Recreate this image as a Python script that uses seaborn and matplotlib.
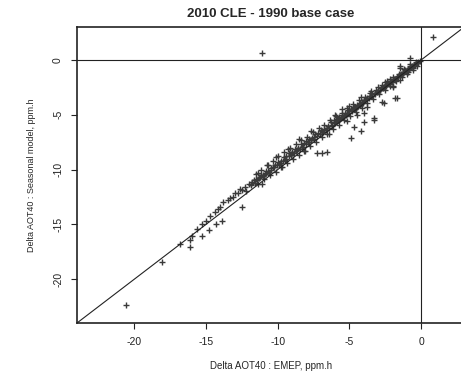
import matplotlib
matplotlib.use("Agg")
import matplotlib.pyplot as plt
import seaborn as sns
import pandas as pd

# values (EMEP delta vs seasonal model delta, ppm.h)
emep = [
    -0.1, -0.2, -0.3, -0.4, -0.5, -0.6, -0.7, -0.8, -0.9, -1.0, -1.1, -1.2, -1.3, -1.4, -1.5,
    -1.6, -1.7, -1.8, -1.9, -2.0, -2.1, -2.2, -2.3, -2.4, -2.5, -2.6, -2.7, -2.8, -2.9, -3.0,
    -0.3, -0.6, -1.0, -1.5, -2.0, -2.5, -3.0, -1.2, -0.8, -2.2,
    -1.45, -1.45, -0.76,
    -3.2, -3.4, -3.5, -3.6, -3.8, -3.9, -4.0, -4.1, -4.2, -4.3, -4.4, -4.5, -4.6, -4.7, -4.8,
    -4.9, -5.0, -5.1, -5.2, -5.3, -5.4, -5.5, -5.6, -5.7, -5.8, -5.9, -6.0, -6.1, -6.2, -6.3,
    -6.5, -6.6, -6.8, -6.9, -7.0,
    -3.5, -4.2, -5.0, -5.5, -6.0, -3.8, -4.5, -5.2, -6.4, -4.0,
    -3.3, -4.0, -4.7, -2.6, -1.8, -2.0, -4.9, -4.2, -3.3, -1.7, -2.7,
    -7.3, -6.9, -6.6,
    -7.2, -7.4, -7.5, -7.6, -7.8, -7.9, -8.0, -8.2, -8.3, -8.4, -8.6, -8.7, -8.8, -9.0, -9.1,
    -9.2, -9.4, -9.5, -9.6, -9.8, -9.9, -10.0, -10.2, -10.3, -10.5, -10.6, -10.8, -10.9, -11.0,
    -11.2, -11.3, -11.5, -11.6, -11.8, -11.9, -12.0,
    -7.7, -8.5, -9.3, -10.1, -10.7, -11.4, -8.1, -9.7, -11.1, -12.2,
    -12.3, -12.5, -12.6, -12.8, -13.0, -13.1, -13.3, -13.5, -13.8, -14.0, -14.2, -14.4, -14.7,
    -15.0, -15.3, -15.6, -16.0, -16.1, -16.8,
    -12.5, -13.9, -14.3, -14.8, -15.3, -16.1,
    -18.1, -20.6, -11.1, 0.8,
    # dense core of the band
    -0.25, -0.45, -0.65, -0.85, -1.05, -1.25, -1.45, -1.65, -1.85, -2.05, -2.25, -2.45, -2.65,
    -2.85, -3.05, -3.25, -3.45, -3.65, -3.85, -4.05, -4.25, -4.45, -4.65, -4.85, -5.05, -5.25,
    -5.45, -5.65, -5.85, -6.05, -6.25, -6.45, -6.65, -6.85, -7.05, -7.25, -7.45, -7.65, -7.85,
    -8.05, -8.25, -8.45, -8.65, -8.85, -9.05, -9.25, -9.45, -9.65, -9.85, -10.05, -10.25,
    -10.45, -10.65, -10.85, -11.05, -11.25, -11.45, -11.65, -11.85,
    -0.35, -0.75, -1.15, -1.55, -1.95, -2.35, -2.75, -3.15, -3.55, -3.95, -4.35, -4.75, -5.15,
    -5.55, -5.95, -6.35, -6.75, -7.15, -7.55, -7.95, -8.35, -8.75, -9.15, -9.55, -9.95, -10.35,
    -10.75, -11.15, -11.55,
    -0.55, -0.95, -1.35, -1.75, -2.15, -2.55, -2.95, -3.35, -3.75, -4.15, -4.55, -4.95, -5.35,
    -5.75, -6.15, -6.55, -6.95, -7.35, -7.75, -8.15, -8.55, -8.95, -9.35, -9.75, -10.15, -10.55,
    -10.95, -11.35,
]
seasonal = [
    -0.1, -0.2, -0.3, -0.35, -0.5, -0.55, -0.65, -0.7, -0.85, -0.9, -1.0, -1.1, -1.2, -1.3, -1.35,
    -1.5, -1.55, -1.7, -1.75, -1.85, -1.9, -2.05, -2.1, -2.2, -2.3, -2.45, -2.5, -2.6, -2.7, -2.8,
    -0.6, -0.9, -1.3, -1.8, -2.4, -2.0, -2.5, -0.8, -0.4, -1.7,
    -0.7, -0.6, 0.18,
    -3.0, -3.1, -3.3, -3.3, -3.5, -3.7, -3.7, -3.8, -4.0, -3.9, -4.2, -4.1, -4.4, -4.3, -4.6,
    -4.5, -4.7, -4.6, -4.9, -4.8, -5.1, -5.0, -5.3, -5.2, -5.5, -5.4, -5.7, -5.5, -5.9, -5.7,
    -6.0, -6.2, -6.3, -6.5, -6.4,
    -2.8, -3.4, -4.2, -4.5, -5.0, -4.3, -5.0, -5.6, -6.8, -4.8,
    -5.3, -5.7, -6.1, -3.9, -3.45, -2.5, -7.1, -6.5, -5.5, -3.5, -3.8,
    -8.5, -8.5, -8.4,
    -6.7, -6.8, -7.0, -7.1, -7.2, -7.5, -7.4, -7.6, -7.9, -7.7, -8.0, -8.3, -8.1, -8.4, -8.7,
    -8.5, -8.8, -9.1, -8.9, -9.2, -9.5, -9.3, -9.6, -9.8, -9.9, -10.2, -10.1, -10.4, -10.6,
    -10.5, -10.8, -10.9, -11.2, -11.1, -11.4, -11.3,
    -6.5, -7.2, -8.1, -8.9, -9.6, -10.3, -8.3, -9.8, -11.3, -12.0,
    -11.6, -11.9, -11.8, -12.1, -12.1, -12.5, -12.6, -12.8, -13.0, -13.4, -13.6, -13.9, -14.2,
    -14.7, -15.0, -15.4, -16.1, -16.4, -16.8,
    -13.4, -14.7, -15.0, -15.5, -16.1, -17.1,
    -18.4, -22.4, 0.6, 2.1,
    # dense core of the band
    -0.3, -0.5, -0.6, -0.8, -1.05, -1.15, -1.4, -1.6, -1.8, -2.0, -2.2, -2.35, -2.55,
    -2.7, -2.95, -3.15, -3.3, -3.5, -3.6, -3.9, -4.1, -4.3, -4.5, -4.7, -4.85, -5.0,
    -5.2, -5.4, -5.6, -5.8, -6.0, -6.2, -6.4, -6.6, -6.8, -6.95, -7.2, -7.3, -7.5,
    -7.7, -7.9, -8.1, -8.2, -8.5, -8.6, -8.8, -9.0, -9.2, -9.4, -9.6, -9.8,
    -10.0, -10.1, -10.3, -10.5, -10.7, -11.0, -11.0, -11.3,
    -0.2, -0.55, -0.95, -1.25, -1.6, -1.95, -2.3, -2.7, -3.05, -3.35, -3.7, -4.05, -4.4,
    -4.8, -5.1, -5.5, -5.9, -6.2, -6.6, -7.0, -7.3, -7.7, -8.0, -8.4, -8.8, -9.2,
    -9.6, -10.0, -10.4,
    -0.7, -1.1, -1.55, -1.95, -2.4, -2.75, -3.15, -3.55, -3.95, -4.35, -4.75, -5.1, -5.5,
    -5.95, -6.3, -6.75, -7.05, -7.5, -7.85, -8.3, -8.65, -9.05, -9.4, -9.8, -10.2, -10.5,
    -10.9, -11.3,
]
x_ticks = [-20, -15, -10, -5, 0]
y_ticks = [0, -5, -10, -15, -20]
lims = [-24, 3]

df = pd.DataFrame({"emep": emep, "seasonal": seasonal})

sns.set_style("white")
plt.rcParams["font.family"] = ["Liberation Sans", "DejaVu Sans"]

fig = plt.figure(figsize=(4.61, 3.78), dpi=100)
ax = fig.add_axes([0.167, 0.1455, 0.84, 0.783])

# reference lines: y = x, zero axes
ax.plot(lims, lims, color="#222222", lw=0.8)
ax.axhline(0, color="#222222", lw=0.8)
ax.axvline(0, color="#222222", lw=0.8)

sns.scatterplot(data=df, x="emep", y="seasonal", marker="+", color="#3a3a3a",
                s=18, linewidth=1.0, ax=ax, legend=False)

ax.set_xlim(lims)
ax.set_ylim(lims)
ax.set_xticks(x_ticks)
ax.set_xticklabels([str(t) for t in x_ticks])
ax.set_yticks(y_ticks)
ax.set_yticklabels([str(t) for t in y_ticks], rotation=90, va="center")
ax.tick_params(direction="out", length=4, width=0.8, colors="#222222",
               labelsize=7.5, pad=6, left=True, bottom=True)
for sp in ax.spines.values():
    sp.set_color("#222222")
    sp.set_linewidth(1.2)

ax.set_title("2010 CLE - 1990 base case", fontsize=9.5, fontweight="bold", pad=7)
ax.set_xlabel("Delta AOT40 : EMEP, ppm.h", fontsize=7, labelpad=10)
ax.set_ylabel("Delta AOT40 : Seasonal model, ppm.h", fontsize=6.5, labelpad=12)

fig.savefig("out.png", dpi=100)
